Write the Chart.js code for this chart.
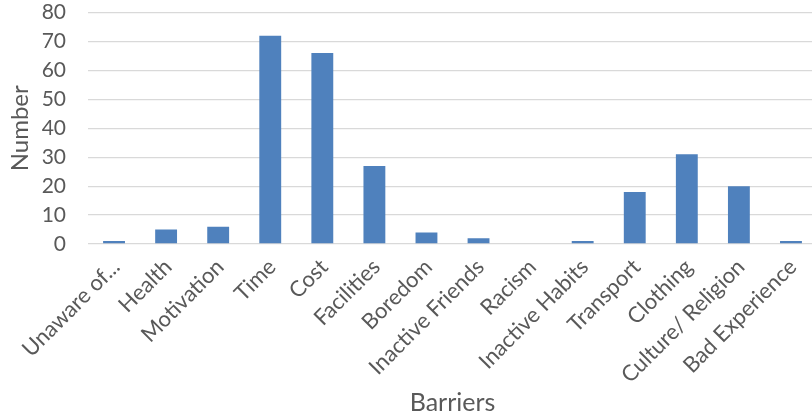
<!DOCTYPE html>
<html>
<head>
<meta charset="utf-8">
<script src="https://cdn.jsdelivr.net/npm/chart.js@4"></script>
<style>
  html, body { margin: 0; padding: 0; background: #fff; overflow: hidden; }
  #wrap { width: 812px; height: 418px; overflow: hidden; }
  #barChart { display: block; margin-top: -22px; }
</style>
</head>
<body>
<div id="wrap"><canvas id="barChart" width="820" height="440"></canvas></div>
<script>
// barriers and how many people named each one
var categories = ['Unaware of...', 'Health', 'Motivation', 'Time', 'Cost', 'Facilities', 'Boredom',
    'Inactive Friends', 'Racism', 'Inactive Habits', 'Transport', 'Clothing', 'Culture/ Religion', 'Bad Experience'];
var counts = [1, 5, 6, 72, 66, 27, 4, 2, 0, 1, 18, 31, 20, 1];
var yTicks = [0, 10, 20, 30, 40, 50, 60, 70, 80];

var textColor = '#595959';
var fontFamily = 'Lato, "Open Sans", sans-serif';

var ctx = document.getElementById('barChart').getContext('2d');
var myChart = new Chart(ctx, {
    type: 'bar',
    data: {
        labels: categories,
        datasets: [{
            label: 'Number',
            data: counts,
            backgroundColor: '#4f81bd',
            categoryPercentage: 0.42,
            barPercentage: 1.0
        }]
    },
    options: {
        responsive: false,
        animation: false,
        devicePixelRatio: 1,
        layout: { padding: { top: 0, right: 3, left: 0, bottom: 0 } },
        plugins: {
            legend: { display: false },
            tooltip: { enabled: false }
        },
        scales: {
            x: {
                grid: { display: false },
                border: { display: false },
                ticks: {
                    color: textColor,
                    font: { family: fontFamily, size: 22 },
                    autoSkip: false,
                    maxRotation: 45,
                    minRotation: 45,
                    padding: 2,
                    labelOffset: 2
                },
                title: {
                    display: true,
                    text: 'Barriers',
                    color: textColor,
                    font: { family: fontFamily, size: 25 },
                    padding: { top: 0, bottom: 0 }
                },
                afterFit: function (scale) { scale.height = 174; }
            },
            y: {
                min: 0,
                max: 80,
                afterBuildTicks: function (scale) {
                    scale.ticks = yTicks.map(function (v) { return { value: v }; });
                },
                grid: { color: '#d9d9d9', lineWidth: 1.3, drawTicks: false },
                border: { display: false },
                ticks: {
                    color: textColor,
                    font: { family: fontFamily, size: 21 },
                    autoSkip: false,
                    padding: 22
                },
                title: {
                    display: true,
                    text: 'Number',
                    color: textColor,
                    font: { family: fontFamily, size: 24 },
                    padding: { top: 6, bottom: 0 }
                },
                afterFit: function (scale) { scale.width = 88; }
            }
        }
    }
});
</script>
</body>
</html>
